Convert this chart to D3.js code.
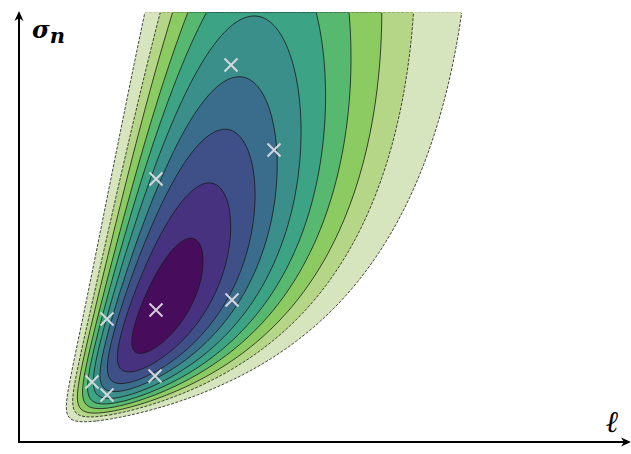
<!DOCTYPE html>
<html>
<head>
<meta charset="utf-8">
<script src="https://cdn.jsdelivr.net/npm/d3@7"></script>
<style>
body { margin: 0; background: #fff; }
</style>
</head>
<body>
<script>
var width = 631, height = 454;

// contour levels of the cost surface, inner to outer
var levels = [0.9, 2.2, 3.6, 5, 6.6, 8.3, 10.1, 12.3, 14.7, 18.7];
var bandColors = ["#480c5c", "#46327e", "#3f5089", "#3a6c8c", "#3b8f8b",
                  "#3ca385", "#57b96f", "#8ccb62", "#b5d686", "#d7e5bf"];
// dashed lines for the outer levels
var dashedFrom = 8;

// surface fitted to the picture: optimum, spread, tilt and upward skew in log space
var optimum = [1.44, 1.34];   // [l, sigma_n]
var spread = [0.48, 0.165];
var tilt = 64;
var skew = 0.022;

// sampled hyperparameters (the crosses)
var sampleL = [2.12, 2.55, 1.37, 1.37, 2.13, 0.88, 1.36, 0.73, 0.88];
var sampleS = [3.77, 2.92, 2.63, 1.32, 1.42, 1.23, 0.66, 0.60, 0.47];

var lMax = 6.1, sMax = 4.3;

var svg = d3.select("body").append("svg")
  .attr("width", width)
  .attr("height", height);

var x = d3.scaleLinear().domain([0, lMax]).range([19, 629]);
var y = d3.scaleLinear().domain([0, sMax]).range([442, 12]);

// grid of the surface, one cell per 2px
var nx = 305, ny = 215;
var dl = lMax / nx, ds = sMax / ny;
var th = tilt * Math.PI / 180, ct = Math.cos(th), st = Math.sin(th);
var values = new Array(nx * ny);
for (var j = 0; j < ny; j++) {
  var sig = sMax - (j + 0.5) * ds;
  for (var i = 0; i < nx; i++) {
    var l = (i + 0.5) * dl;
    var du = Math.log(l / optimum[0]), dv = Math.log(sig / optimum[1]);
    var a = (ct * du + st * dv) / spread[0];
    var b = (-st * du + ct * dv) / spread[1];
    values[j * nx + i] = -(a * a + b * b - skew * Math.pow(Math.max(a, 0), 3));
  }
}

var contours = d3.contours().size([nx, ny]);
var proj = d3.geoTransform({
  point: function(px, py) { this.stream.point(x(px * dl), y(sMax - py * ds)); }
});
var path = d3.geoPath(proj);

var shapes = levels.map(function(v) { return contours.contour(values, -v); });

// filled bands, outer first
var bands = svg.append("g");
for (var k = levels.length - 1; k >= 0; k--) {
  bands.append("path")
    .attr("d", path(shapes[k]))
    .attr("fill", bandColors[k]);
}

// contour lines, not along the top cut
svg.append("clipPath").attr("id", "cut")
  .append("rect")
  .attr("x", 0).attr("y", y(sMax) + 0.7)
  .attr("width", width).attr("height", height);

var lines = svg.append("g").attr("clip-path", "url(#cut)");
for (var k = 0; k < levels.length; k++) {
  lines.append("path")
    .attr("d", path(shapes[k]))
    .attr("fill", "none")
    .attr("stroke", "#1b1b1b")
    .attr("stroke-width", 0.8)
    .attr("stroke-dasharray", k >= dashedFrom ? "3,1.5" : null);
}

// crosses
var samples = sampleL.map(function(d, i) { return [d, sampleS[i]]; });
var r = 6.5;
svg.append("g").selectAll("path")
  .data(samples)
  .enter().append("path")
  .attr("d", function(d) {
    var cx = x(d[0]), cy = y(d[1]);
    return "M" + (cx - r) + "," + (cy - r) + "L" + (cx + r) + "," + (cy + r) +
           "M" + (cx - r) + "," + (cy + r) + "L" + (cx + r) + "," + (cy - r);
  })
  .attr("stroke", "#e4e0e6")
  .attr("stroke-width", 2)
  .attr("stroke-opacity", 0.9)
  .attr("fill", "none");

// axes with arrows
var axes = svg.append("g").attr("stroke", "#000").attr("fill", "#000");
axes.append("line")
  .attr("x1", x(0)).attr("y1", y(0) + 1)
  .attr("x2", x(0)).attr("y2", 18)
  .attr("stroke-width", 2);
axes.append("line")
  .attr("x1", x(0) - 1).attr("y1", y(0))
  .attr("x2", 624).attr("y2", y(0))
  .attr("stroke-width", 2);
axes.append("path")
  .attr("stroke", "none")
  .attr("d", "M" + x(0) + ",11 L" + (x(0) + 4.5) + ",21 L" + x(0) + ",18 L" + (x(0) - 4.5) + ",21 Z");
axes.append("path")
  .attr("stroke", "none")
  .attr("d", "M631," + y(0) + " L621," + (y(0) - 4.5) + " L624," + y(0) + " L621," + (y(0) + 4.5) + " Z");

// axis labels
var yl = svg.append("text")
  .attr("x", 32).attr("y", 38)
  .attr("font-family", "DejaVu Serif")
  .attr("font-style", "italic")
  .attr("font-weight", "bold")
  .attr("font-size", 24)
  .text("σ");
yl.append("tspan")
  .attr("dy", 5)
  .attr("font-size", 21)
  .text("n");

svg.append("text")
  .attr("x", 606).attr("y", 432)
  .attr("font-family", "DejaVu Serif")
  .attr("font-style", "italic")
  .attr("font-weight", "bold")
  .attr("font-size", 30)
  .text("ℓ");
</script>
</body>
</html>
